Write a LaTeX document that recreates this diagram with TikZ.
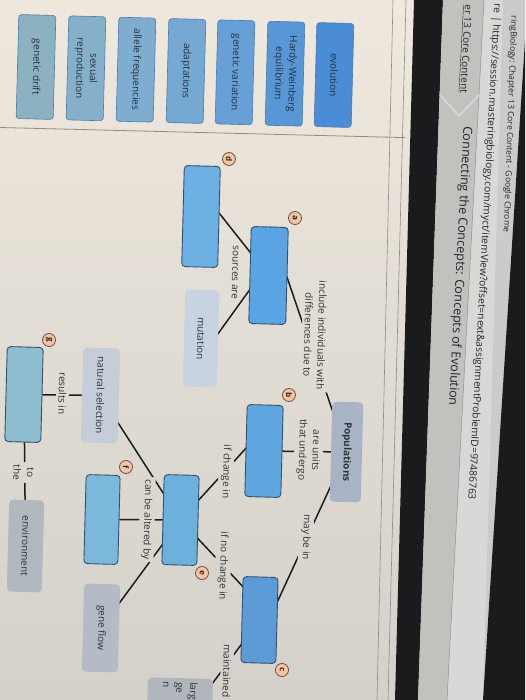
\documentclass[tikz,border=0pt]{standalone}
\usepackage{fontspec}
\setmainfont{Open Sans}
\usetikzlibrary{calc}
\definecolor{paper}{HTML}{EFE8DD}
\definecolor{paperlow}{HTML}{D3D1CA}
\definecolor{rulegray}{HTML}{8E8C88}
\definecolor{bezel}{HTML}{1B1B1D}
\definecolor{crumbbar}{HTML}{C2C1BE}
\definecolor{urlbar}{HTML}{D8D8D6}
\definecolor{titlebar}{HTML}{CBCBC9}
\definecolor{chromeink}{HTML}{262626}
\definecolor{ink}{HTML}{1C1C1C}
\definecolor{labelink}{HTML}{30343A}
\definecolor{bankedge}{HTML}{4C7AA8}
\definecolor{bankink}{HTML}{25313D}
\definecolor{slotedge}{HTML}{34506E}
\definecolor{badgefill}{HTML}{F0C6A6}
\definecolor{badgeedge}{HTML}{7A4A36}
\definecolor{badgeink}{HTML}{3A2418}
\definecolor{bankA}{HTML}{4A8CD6}
\definecolor{bankB}{HTML}{5897D6}
\definecolor{bankC}{HTML}{67A0D6}
\definecolor{bankD}{HTML}{75A8D3}
\definecolor{bankE}{HTML}{7EADD0}
\definecolor{bankF}{HTML}{86B0C9}
\definecolor{bankG}{HTML}{8CB2C2}
\definecolor{slotA}{HTML}{5AA4E3}
\definecolor{slotB}{HTML}{60A7E0}
\definecolor{slotC}{HTML}{5B9CD6}
\definecolor{slotD}{HTML}{6DB0E4}
\definecolor{slotE}{HTML}{6CB0DC}
\definecolor{slotF}{HTML}{7CB8DA}
\definecolor{slotG}{HTML}{8DBDCF}
\definecolor{popfill}{HTML}{A8B4C6}
\definecolor{mutfill}{HTML}{C7D3E0}
\definecolor{selfill}{HTML}{C5CDD8}
\definecolor{flowfill}{HTML}{B4BBC4}
\definecolor{envfill}{HTML}{B1B8BF}
\definecolor{largefill}{HTML}{B0B6BB}
\newcommand{\mapfont}{\fontsize{10}{13.5}\selectfont}
\pgfdeclarelayer{back}
\pgfdeclarelayer{lines}
\pgfsetlayers{back,lines,main}
\tikzset{
  bankbox/.style={draw=bankedge, line width=0.6pt, rounded corners=3pt, minimum width=104pt,
    minimum height=37pt, inner sep=1pt, align=center, text=bankink, font=\mapfont, rotate=-91.5},
  slotbox/.style={draw=slotedge, line width=0.9pt, rounded corners=3.5pt, minimum height=36pt,
    inner sep=0pt, rotate=-91.5},
  conceptbox/.style={rounded corners=4pt, minimum height=36pt, inner sep=2pt, align=center,
    text=labelink, font=\mapfont, rotate=-91.5},
  linklabel/.style={align=center, text=labelink, font=\mapfont, inner sep=2.5pt, rotate=-91.5},
  badge/.style={circle, draw=badgeedge, fill=badgefill, line width=0.8pt, minimum size=13pt,
    inner sep=0pt, text=badgeink, font=\fontsize{8}{8}\selectfont\bfseries, rotate=-91.5},
  chrometext/.style={text=chromeink, inner sep=0pt, rotate=-93},
  link/.style={draw=ink, line width=1.5pt}
}
\begin{document}
\begin{tikzpicture}[x=1pt, y=-1pt]
  \useasboundingbox (0,0) rectangle (525,700);
  \begin{pgfonlayer}{back}
    \shade[top color=paper, bottom color=paperlow] (0,0) rectangle (525,700);
    \draw[rulegray, line width=0.8pt] (0,127.5) -- (405,137.6);
    \draw[rulegray, line width=0.6pt] (393,0) -- (377,700);
    \draw[rulegray, line width=0.6pt] (406,0) -- (388,700);
    \fill[bezel] (414,0) -- (443,0) -- (418,700) -- (395,700) -- cycle;
    \fill[crumbbar] (443,0) -- (484,0) -- (447,700) -- (418,700) -- cycle;
    \fill[urlbar] (484,0) -- (503,0) -- (483,700) -- (447,700) -- cycle;
    \fill[titlebar] (503,0) -- (525,0) -- (525,40) -- (483,700) -- cycle;
    \fill[bezel] (525,40) -- (525,700) -- (483,700) -- cycle;
    \draw[rulegray, line width=0.5pt] (484,0) -- (447,700);
    \draw[white!85!black, line width=1.6pt, line join=round] (440,95) -- (459,116) -- (479,95);
  \end{pgfonlayer}

  % browser chrome
  \node[chrometext, rotate=1, anchor=east, font=\fontsize{8.5}{10}\selectfont] (winTitle) at (506,233)
    {ringBiology: Chapter 13 Core Content - Google Chrome};
  \node[chrometext, anchor=east, font=\fontsize{10.2}{12}\selectfont] (urlText) at (471,500)
    {re | https://session.masteringbiology.com/myct/itemView?offset=next\&assignmentProblemID=97486763};
  \node[chrometext, anchor=east, font=\fontsize{10}{12}\selectfont] (crumbLink) at (463,93)
    {\underline{er 13 Core Content}};
  \node[chrometext, anchor=west, font=\fontsize{12.5}{14}\selectfont] (pageTitle) at (467,126)
    {Connecting the Concepts: Concepts of Evolution};

  % word bank
  \foreach \nm/\cx/\col/\txt in {evolution/334/bankA/evolution,
      hardy/285/bankB/{Hardy-Weinberg\\equilibrium}, genvar/235/bankC/genetic variation,
      adapt/186/bankD/adaptations, allele/136/bankE/allele frequencies,
      sexual/86/bankF/{sexual\\reproduction}, drift/36/bankG/genetic drift}
    \node[bankbox, fill=\col] (\nm) at (\cx,{66+0.027*\cx}) {\txt};

  % boxes of the map
  \node[slotbox, fill=slotD, minimum width=101pt] (boxD) at (201,216.5) {};
  \node[slotbox, fill=slotA, minimum width=97pt, minimum height=37pt] (boxA) at (268.5,275.5) {};
  \node[conceptbox, fill=mutfill, minimum width=97pt, minimum height=34pt] (mutation) at (201,338.5) {mutation};
  \node[conceptbox, fill=popfill, minimum width=100pt, minimum height=31pt, font=\mapfont\bfseries] (pop) at (346.5,452) {Populations};
  \node[slotbox, fill=slotB, minimum width=92pt] (boxB) at (264,451) {};
  \node[slotbox, fill=slotE, minimum width=90pt, minimum height=35pt] (boxE) at (180.5,520) {};
  \node[slotbox, fill=slotC, minimum width=86pt, minimum height=35pt] (boxC) at (259.5,620) {};
  \node[conceptbox, fill=selfill, minimum width=95pt, minimum height=37pt] (natSel) at (100.5,395.5) {natural selection};
  \node[slotbox, fill=slotF, minimum width=89pt, minimum height=34pt] (boxF) at (102,519.5) {};
  \node[conceptbox, fill=flowfill, minimum width=88pt] (geneFlow) at (101,628) {gene flow};
  \node[slotbox, fill=slotG, minimum width=95pt] (boxG) at (24,394.5) {};
  \node[conceptbox, fill=envfill, minimum width=92pt, minimum height=35pt] (environ) at (25.5,546) {environment};
  \node[conceptbox, fill=largefill, minimum width=100pt, minimum height=65pt, text width=92pt,
    align=left, anchor=west] (largeBox) at (180.5,678) {larg\\ge\\n};

  % linking phrases
  \node[linklabel] (lblDue) at (315,335) {include individuals with\\differences due to};
  \node[linklabel] (lblUnits) at (308.5,450) {are units\\that undergo};
  \node[linklabel] (lblMay) at (306,537) {may be in};
  \node[linklabel] (lblSources) at (235,272.5) {sources are};
  \node[linklabel] (lblChange) at (226,471.5) {if change in};
  \node[linklabel] (lblNoChange) at (223,566) {if no change in};
  \node[linklabel] (lblKept) at (227,671) {maintained};
  \node[linklabel] (lblAltered) at (147,519.5) {can be altered by};
  \node[linklabel] (lblResults) at (62.5,393.5) {results in};
  \node[linklabel] (lblTo) at (23.5,472.5) {to\\the};

  % answer badges
  \node[badge] (badgeA) at (295,218) {a};
  \node[badge] (badgeB) at (289,395) {b};
  \node[badge] (badgeC) at (282,670) {c};
  \node[badge] (badgeD) at (229,159) {d};
  \node[badge] (badgeE) at (202,573) {e};
  \node[badge] (badgeF) at (126,467) {f};
  \node[badge] (badgeG) at (49,340) {g};

  % connectors, hidden behind boxes and cut round the phrases
  \begin{pgfonlayer}{lines}
    \begin{scope}[even odd rule]
      \clip (-5,-5) rectangle (530,705)
        \foreach \lb in {lblDue,lblUnits,lblMay,lblSources,lblChange,lblNoChange,lblKept,lblAltered,lblResults,lblTo}
        {(\lb.north west) -- (\lb.north east) -- (\lb.south east) -- (\lb.south west) -- cycle};
      \draw[link] (pop.center) -- (boxA.west);
      \draw[link] (pop.center) -- (boxB.center);
      \draw[link] (pop.center) -- ($(boxC)!0.5!(boxC.east)$);
      \draw[link] (boxA.center) -- ($(boxD)!0.5!(boxD.west)$);
      \draw[link] ($(boxA)!0.25!(boxA.west)$) -- ($(mutation)!0.4!(mutation.east)$);
      \draw[link] ($(boxB)!0.5!(boxB.west)$) -- (boxE.center);
      \draw[link] (boxE.center) -- ($(boxC)!0.35!(boxC.west)$);
      \draw[link] (boxC.center) -- (largeBox.center);
      \draw[link] (boxE.center) -- (natSel.center);
      \draw[link] (boxE.center) -- (boxF.center);
      \draw[link] (boxE.center) -- (geneFlow.center);
      \draw[link] (natSel.center) -- (boxG.center);
      \draw[link] (boxG.center) -- (environ.center);
    \end{scope}
  \end{pgfonlayer}
\end{tikzpicture}
\end{document}
